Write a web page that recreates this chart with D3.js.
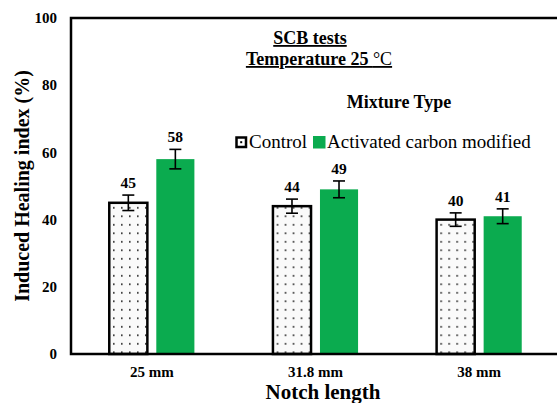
<!DOCTYPE html>
<html>
<head>
<meta charset="utf-8">
<script src="https://cdn.jsdelivr.net/npm/d3@7"></script>
<style>
  body { margin: 0; background: #fff; }
</style>
</head>
<body>
<div id="chart"></div>
<script>
const categories = ["25 mm", "31.8 mm", "38 mm"];
const seriesNames = ["Control", "Activated carbon modified"];
const controlValues = [45, 44, 40];
const carbonValues = [58, 49, 41];
const controlErrors = [2.3, 2.1, 2.0];
const carbonErrors = [2.9, 2.5, 2.2];
const yTicks = [0, 20, 40, 60, 80, 100];

const width = 557, height = 403;
const margin = {top: 18, right: -4, bottom: 49, left: 71};
const green = "#0bab4f";
const serif = "'Liberation Serif', 'Times New Roman', serif";

const svg = d3.select("#chart").append("svg")
    .attr("width", width)
    .attr("height", height)
    .attr("font-family", serif)
    .style("font-family", serif);

const defs = svg.append("defs");
const pat = defs.append("pattern")
    .attr("id", "dots")
    .attr("patternUnits", "userSpaceOnUse")
    .attr("width", 8)
    .attr("height", 8.5);
pat.append("rect").attr("width", 8).attr("height", 8.5).attr("fill", "#fafafa");
pat.append("rect").attr("x", 3).attr("y", 3).attr("width", 1.6).attr("height", 1.6).attr("fill", "#222");

const x0 = d3.scaleBand()
    .domain(categories)
    .range([margin.left - 1, width - margin.right]);

const x1 = d3.scaleBand()
    .domain(seriesNames)
    .range([0, x0.bandwidth()])
    .paddingInner(0.19)
    .paddingOuter(0.835);

const y = d3.scaleLinear()
    .domain([0, 100])
    .range([height - margin.bottom, margin.top]);

const data = categories.map((c, i) => ({
    cat: c,
    vals: [
        {name: seriesNames[0], v: controlValues[i], e: controlErrors[i]},
        {name: seriesNames[1], v: carbonValues[i], e: carbonErrors[i]}
    ]
}));

// y axis tick labels
svg.append("g")
    .attr("font-size", 15)
    .attr("font-weight", "bold")
    .selectAll("text")
    .data(yTicks)
    .join("text")
    .attr("x", 57)
    .attr("y", d => y(d))
    .attr("dy", "0.35em")
    .attr("text-anchor", "end")
    .text(d => d);

// bars
const groups = svg.append("g")
    .selectAll("g")
    .data(data)
    .join("g")
    .attr("transform", d => `translate(${x0(d.cat)},0)`);

groups.selectAll("rect")
    .data(d => d.vals)
    .join("rect")
    .attr("x", d => x1(d.name))
    .attr("y", d => y(d.v))
    .attr("width", x1.bandwidth())
    .attr("height", d => y(0) - y(d.v))
    .attr("fill", (d, i) => i === 0 ? "url(#dots)" : green)
    .attr("stroke", (d, i) => i === 0 ? "#000" : "none")
    .attr("stroke-width", 2.5);

// error bars
const eb = groups.selectAll("g.err")
    .data(d => d.vals)
    .join("g")
    .attr("class", "err")
    .attr("stroke", "#000")
    .attr("stroke-width", 1.6);
eb.append("line")
    .attr("x1", d => x1(d.name) + x1.bandwidth() / 2)
    .attr("x2", d => x1(d.name) + x1.bandwidth() / 2)
    .attr("y1", d => y(d.v + d.e))
    .attr("y2", d => y(d.v - d.e));
eb.append("line")
    .attr("x1", d => x1(d.name) + x1.bandwidth() / 2 - 6)
    .attr("x2", d => x1(d.name) + x1.bandwidth() / 2 + 6)
    .attr("y1", d => y(d.v + d.e))
    .attr("y2", d => y(d.v + d.e));
eb.append("line")
    .attr("x1", d => x1(d.name) + x1.bandwidth() / 2 - 6)
    .attr("x2", d => x1(d.name) + x1.bandwidth() / 2 + 6)
    .attr("y1", d => y(d.v - d.e))
    .attr("y2", d => y(d.v - d.e));

// value labels
groups.selectAll("text.val")
    .data(d => d.vals)
    .join("text")
    .attr("class", "val")
    .attr("x", d => x1(d.name) + x1.bandwidth() / 2)
    .attr("y", d => y(d.v + d.e) - 7)
    .attr("text-anchor", "middle")
    .attr("font-size", 15.5)
    .attr("font-weight", "bold")
    .text(d => d.v);

// frame: left, top, bottom
const frame = svg.append("g").attr("stroke", "#000").attr("stroke-width", 2.5).attr("fill", "none");
frame.append("path")
    .attr("d", `M${width},${y(100)}H${margin.left}V${y(0)}H${width}`);

// x category labels
svg.append("g")
    .attr("font-size", 15)
    .attr("font-weight", "bold")
    .selectAll("text")
    .data(categories)
    .join("text")
    .attr("x", d => x0(d) + x0.bandwidth() / 2)
    .attr("y", y(0) + 23)
    .attr("text-anchor", "middle")
    .text(d => d);

// axis titles
svg.append("text")
    .attr("x", 323)
    .attr("y", 399)
    .attr("text-anchor", "middle")
    .attr("font-size", 21)
    .attr("font-weight", "bold")
    .text("Notch length");

svg.append("text")
    .attr("transform", `translate(29,${(y(0) + y(100)) / 2}) rotate(-90)`)
    .attr("text-anchor", "middle")
    .attr("font-size", 20)
    .attr("font-weight", "bold")
    .text("Induced Healing index (%)");

// title
svg.append("text")
    .attr("x", 310)
    .attr("y", 44)
    .attr("text-anchor", "middle")
    .attr("font-size", 18)
    .attr("font-weight", "bold")
    .attr("text-decoration", "underline")
    .text("SCB tests");

const t2 = svg.append("text")
    .attr("x", 319)
    .attr("y", 65)
    .attr("text-anchor", "middle")
    .attr("font-size", 18)
    .attr("text-decoration", "underline");
t2.append("tspan").attr("font-weight", "bold").text("Temperature  25 ");
t2.append("tspan").text("°C");

// legend
svg.append("text")
    .attr("x", 399)
    .attr("y", 108)
    .attr("text-anchor", "middle")
    .attr("font-size", 18)
    .attr("font-weight", "bold")
    .text("Mixture Type");

const legend = svg.append("g").attr("font-size", 19);
legend.append("rect")
    .attr("x", 236.5).attr("y", 137.5).attr("width", 9.5).attr("height", 9.5)
    .attr("fill", "#fff").attr("stroke", "#000").attr("stroke-width", 2.5);
legend.append("rect")
    .attr("x", 240.2).attr("y", 141.2).attr("width", 2).attr("height", 2).attr("fill", "#000");
legend.append("text").attr("x", 249).attr("y", 148).text(seriesNames[0]);
legend.append("rect")
    .attr("x", 313).attr("y", 136).attr("width", 12.5).attr("height", 12.5).attr("fill", green);
legend.append("text").attr("x", 327).attr("y", 148).text(seriesNames[1]);
</script>
</body>
</html>
